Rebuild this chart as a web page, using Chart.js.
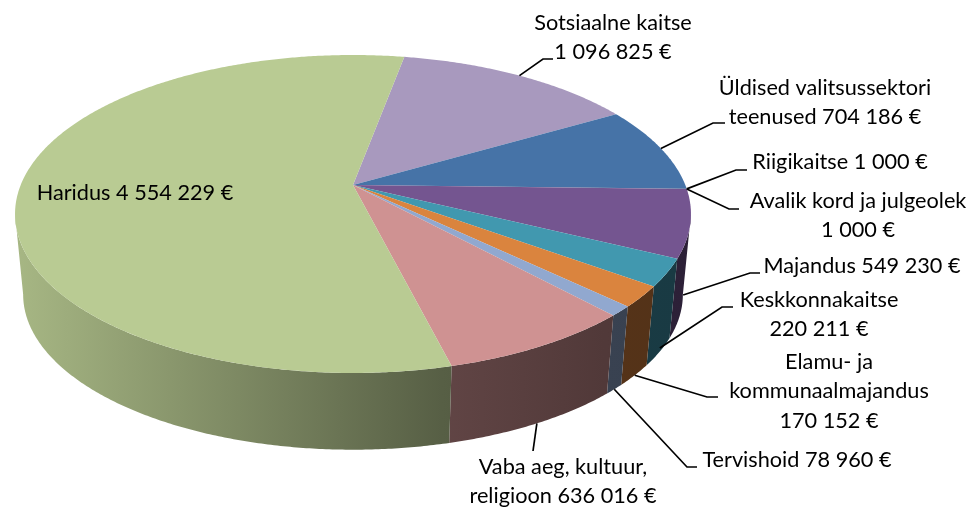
<!DOCTYPE html>
<html>
<head>
<meta charset="utf-8">
<style>
  html, body { margin: 0; padding: 0; background: #fff; }
  #pirukas { display: block; }
</style>
<script src="https://cdn.jsdelivr.net/npm/chart.js@4"></script>
</head>
<body>
<canvas id="pirukas" width="973" height="508"></canvas>
<script>
/*Andmed*/
const kategooriad = [
    'Sotsiaalne kaitse',
    'Üldised valitsussektori teenused',
    'Riigikaitse',
    'Avalik kord ja julgeolek',
    'Majandus',
    'Keskkonnakaitse',
    'Elamu- ja kommunaalmajandus',
    'Tervishoid',
    'Vaba aeg, kultuur, religioon',
    'Haridus'
];
const kulud = [1096825, 704186, 1000, 1000, 549230, 220211, 170152, 78960, 636016, 4554229];
const sildid = [
    ['Sotsiaalne kaitse', '1 096 825 €'],
    ['Üldised valitsussektori', 'teenused 704 186 €'],
    ['Riigikaitse 1 000 €'],
    ['Avalik kord ja julgeolek', '1 000 €'],
    ['Majandus 549 230 €'],
    ['Keskkonnakaitse', '220 211 €'],
    ['Elamu- ja', 'kommunaalmajandus', '170 152 €'],
    ['Tervishoid 78 960 €'],
    ['Vaba aeg, kultuur,', 'religioon 636 016 €'],
    ['Haridus 4 554 229 €']
];
const varvid = [
    [168, 153, 190],
    [70, 115, 167],
    [80, 90, 120],
    [80, 80, 120],
    [116, 85, 144],
    [65, 152, 175],
    [218, 132, 62],
    [145, 168, 207],
    [207, 146, 146],
    [185, 203, 147]
];

/*Silditekstide asukohad: kx = teksti keskpunkt, y = esimene rida, serv = kui sugavalt joon algab (0 pealt, 1 alt)*/
const paigutus = [
    { kx: 613, y: 23, serv: 0, murre: [543, 59], lopp: [553, 59] },
    { kx: 825, y: 88, serv: 0, murre: [713, 123], lopp: [725, 123] },
    { kx: 840, y: 162, serv: 0, murre: [736, 170], lopp: [747, 170] },
    { kx: 858, y: 201, serv: 0, murre: [729, 209], lopp: [739, 209] },
    { kx: 862, y: 266, serv: 0.89, murre: [750, 273], lopp: [760, 273] },
    { kx: 819, y: 300, serv: 0.95, murre: [722, 307], lopp: [733, 307] },
    { kx: 829, y: 362, serv: 1, murre: [707, 397], lopp: [718, 397] },
    { kx: 797, y: 460, serv: 1, murre: [687, 467], lopp: [697, 467] },
    { kx: 563, y: 467, serv: 1, murre: [533, 451], lopp: [533, 451] },
    { kx: 135, y: 193 }
];

/*Ketta perspektiiv: tipp, raadius ja koondumispunkt*/
const tipp_x = 353, tipp_y = 185;
const raadius_x = 332.3, raadius_y = 153.7, perspektiiv = 0.1823;
const koondu_y = 3570, sugavus = 0.024;

function projekteeri(nurk, osa) {
    const u = Math.cos(nurk), v = Math.sin(nurk);
    const w = 1 - perspektiiv * v;
    const x = tipp_x + raadius_x * u / w;
    const y = tipp_y + raadius_y * v / w;
    return [x + (tipp_x - x) * sugavus * osa, y + (koondu_y - y) * sugavus * osa];
}

function rgb(c, k) {
    return 'rgb(' + Math.round(c[0] * k) + ',' + Math.round(c[1] * k) + ',' + Math.round(c[2] * k) + ')';
}

function kaare_punktid(algus, lopp, osa) {
    const punktid = [];
    const n = Math.max(2, Math.ceil((lopp - algus) * 120));
    for (let i = 0; i <= n; i++) {
        punktid.push(projekteeri(algus + (lopp - algus) * i / n, osa));
    }
    return punktid;
}

const pirukas_3d = {
    id: 'pirukas_3d',
    beforeDatasetDraw(chart) {
        const ctx = chart.ctx;
        const kaared = chart.getDatasetMeta(0).data;
        const esi_algus = Math.asin(perspektiiv), esi_lopp = Math.PI - esi_algus;

        /*Kulgpind, ainult nahtav esimene pool*/
        kaared.forEach((kaar, i) => {
            const algus = Math.max(kaar.startAngle, esi_algus);
            const lopp = Math.min(kaar.endAngle, esi_lopp);
            if (lopp <= algus) return;
            const g = ctx.createLinearGradient(15, 0, 692, 0);
            g.addColorStop(0, rgb(varvid[i], 0.9));
            g.addColorStop(0.63, rgb(varvid[i], 0.47));
            g.addColorStop(0.87, rgb(varvid[i], 0.39));
            g.addColorStop(1, rgb(varvid[i], 0.38));
            const yla = kaare_punktid(algus, lopp, 0);
            const alla = kaare_punktid(algus, lopp, 1).reverse();
            ctx.beginPath();
            yla.concat(alla).forEach((p, j) => j ? ctx.lineTo(p[0], p[1]) : ctx.moveTo(p[0], p[1]));
            ctx.closePath();
            ctx.fillStyle = g;
            ctx.fill();
        });

        /*Pealmine pind*/
        kaared.forEach((kaar, i) => {
            ctx.beginPath();
            ctx.moveTo(tipp_x, tipp_y);
            kaare_punktid(kaar.startAngle, kaar.endAngle, 0).forEach(p => ctx.lineTo(p[0], p[1]));
            ctx.closePath();
            ctx.fillStyle = rgb(varvid[i], 1);
            ctx.fill();
        });
        return false;
    },
    afterDatasetsDraw(chart) {
        const ctx = chart.ctx;
        const kaared = chart.getDatasetMeta(0).data;

        /*Juhtjooned*/
        ctx.strokeStyle = '#000';
        ctx.lineWidth = 1.7;
        kaared.forEach((kaar, i) => {
            const asukoht = paigutus[i];
            if (asukoht.serv === undefined) return;
            const algus = projekteeri((kaar.startAngle + kaar.endAngle) / 2, asukoht.serv);
            ctx.beginPath();
            ctx.moveTo(algus[0], algus[1]);
            ctx.lineTo(asukoht.murre[0], asukoht.murre[1]);
            ctx.lineTo(asukoht.lopp[0], asukoht.lopp[1]);
            ctx.stroke();
        });

        /*Sildid*/
        ctx.fillStyle = '#000';
        ctx.font = '21.7px Lato';
        ctx.textAlign = 'center';
        ctx.textBaseline = 'middle';
        sildid.forEach((read, i) => {
            read.forEach((rida, r) => {
                ctx.fillText(rida, paigutus[i].kx, paigutus[i].y + r * 29.5);
            });
        });
    }
};

const data_pirukas = {
    labels: kategooriad,
    datasets: [{
        label: 'Kulud',
        data: kulud,
        backgroundColor: varvid.map(c => rgb(c, 1)),
        borderWidth: 0
    }]
};

const config_pirukas = {
    type: 'pie',
    data: data_pirukas,
    options: {
        responsive: false,
        animation: false,
        rotation: 10.5,
        plugins: {
            legend: { display: false },
            tooltip: { enabled: false }
        }
    },
    plugins: [pirukas_3d]
};

const graafik_pirukas = new Chart(
    document.getElementById('pirukas'),
    config_pirukas
);
</script>
</body>
</html>
